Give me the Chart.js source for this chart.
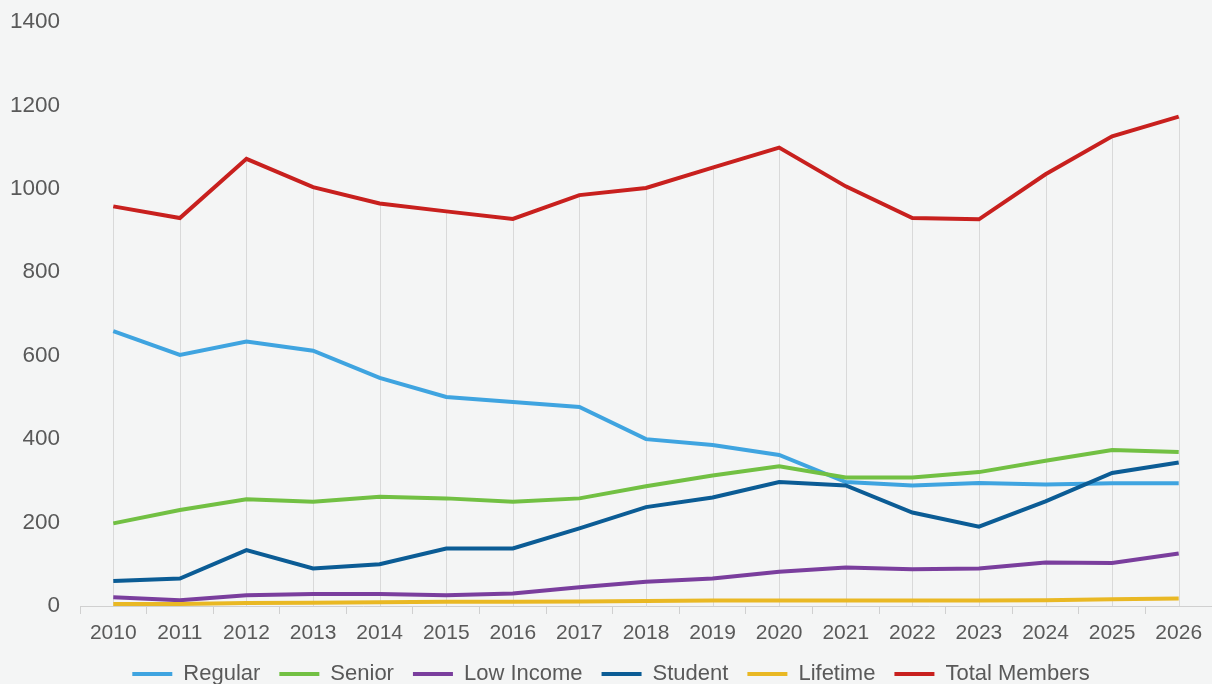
<!DOCTYPE html>
<html>
<head>
<meta charset="utf-8">
<script src="https://cdn.jsdelivr.net/npm/chart.js@4.4.1/dist/chart.umd.min.js"></script>
<style>
  html, body { margin: 0; padding: 0; background: #F4F5F5; overflow: hidden; }
  #wrap { width: 1212px; height: 684px; position: relative; overflow: hidden; }
  canvas { display: block; }
</style>
</head>
<body>
<div id="wrap"><canvas id="c" width="1212" height="695"></canvas></div>
<script>
const years = ["2010","2011","2012","2013","2014","2015","2016","2017","2018","2019","2020","2021","2022","2023","2024","2025","2026"];
const regular   = [659, 602, 634, 612, 547, 501, 489, 477, 400, 386, 362, 297, 289, 295, 291, 294, 294];
const senior    = [198, 230, 256, 250, 262, 258, 250, 258, 287, 313, 335, 308, 308, 321, 348, 374, 369];
const lowIncome = [21, 14, 26, 29, 29, 26, 30, 45, 58, 66, 82, 92, 88, 90, 104, 103, 126];
const student   = [60, 66, 134, 90, 100, 138, 138, 186, 237, 260, 297, 289, 224, 190, 251, 319, 344];
const lifetime  = [5, 5, 7, 8, 9, 10, 10, 11, 12, 13, 13, 13, 13, 13, 14, 16, 18];
const total     = [958, 930, 1072, 1004, 965, 946, 928, 985, 1002, 1051, 1099, 1006, 930, 927, 1035, 1126, 1173];
const yTicks    = [0, 200, 400, 600, 800, 1000, 1200, 1400];

const textColor = '#595959';
const fontFam = '"Liberation Sans", Arial, sans-serif';

const dropLines = {
  id: 'dropLines',
  beforeDatasetsDraw(chart) {
    const ctx = chart.ctx;
    const xs = chart.scales.x, ys = chart.scales.y;
    ctx.save();
    ctx.strokeStyle = '#D9D9D9';
    ctx.lineWidth = 1;
    for (let i = 0; i < years.length; i++) {
      let top = Infinity;
      chart.data.datasets.forEach(ds => {
        const p = ys.getPixelForValue(ds.data[i]);
        if (p < top) top = p;
      });
      const x = Math.round(xs.getPixelForValue(i)) + 0.5;
      ctx.beginPath();
      ctx.moveTo(x, top);
      ctx.lineTo(x, ys.getPixelForValue(0));
      ctx.stroke();
    }
    ctx.restore();
  }
};

const mk = (label, data, color, order) => ({
  label, data, borderColor: color, backgroundColor: color,
  borderWidth: 4, pointRadius: 0, tension: 0, order
});

new Chart(document.getElementById('c'), {
  type: 'line',
  data: {
    labels: years,
    datasets: [
      mk('Regular', regular, '#3FA4E0', 5),
      mk('Senior', senior, '#72C043', 4),
      mk('Low Income', lowIncome, '#7A3E9D', 3),
      mk('Student', student, '#0B5C95', 2),
      mk('Lifetime', lifetime, '#E9B824', 1),
      mk('Total Members', total, '#C8201E', 0)
    ]
  },
  options: {
    responsive: false,
    animation: false,
    layout: { padding: { top: 22, left: 10, right: 0, bottom: 0 } },
    plugins: {
      tooltip: { enabled: false },
      legend: {
        position: 'bottom',
        labels: {
          usePointStyle: true,
          pointStyle: 'line',
          pointStyleWidth: 40,
          boxHeight: 22,
          padding: 19,
          color: textColor,
          font: { family: fontFam, size: 22 },
          sort: (a, b) => a.datasetIndex - b.datasetIndex
        }
      }
    },
    scales: {
      x: {
        offset: true,
        afterFit: (s) => { s.height = 38; },
        grid: {
          display: true, offset: true, drawOnChartArea: false,
          drawTicks: true, tickLength: 8, color: '#D0D0D0'
        },
        border: { display: true, color: '#D0D0D0', width: 1 },
        ticks: { color: textColor, font: { family: fontFam, size: 21 }, padding: 7, maxRotation: 0, autoSkip: false }
      },
      y: {
        min: 0, max: 1400,
        afterBuildTicks: (s) => { s.ticks = yTicks.map(v => ({ value: v })); },
        afterFit: (s) => { s.width = 70; s.paddingTop = 0; s.paddingBottom = 0; },
        grid: { display: false, drawTicks: false },
        border: { display: false },
        ticks: { color: textColor, font: { family: fontFam, size: 22.5 }, padding: 20, callback: (v) => String(v) }
      }
    }
  },
  plugins: [dropLines]
});
</script>
</body>
</html>
